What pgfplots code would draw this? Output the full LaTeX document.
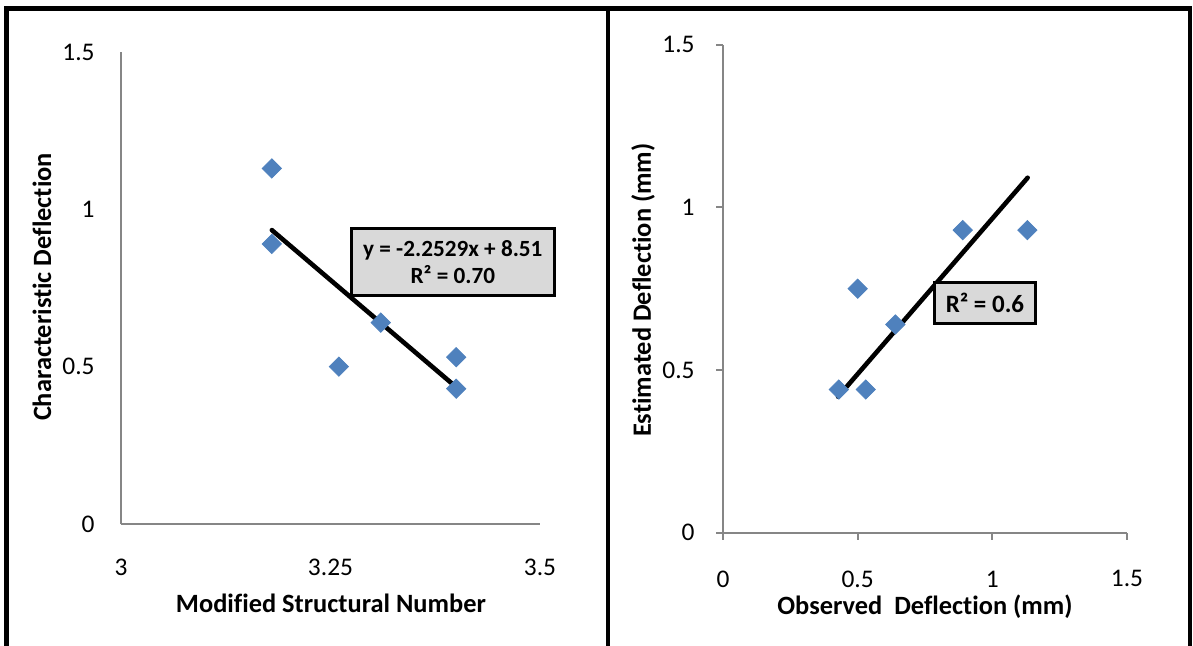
\documentclass[border=0pt]{standalone}
\usepackage{pgfplots}
\pgfplotsset{compat=1.18}
\usepackage{fontspec}
\setmainfont{Carlito}[Ligatures=NoCommon]
\definecolor{excelblue}{HTML}{4F81BD}
\definecolor{axisgray}{HTML}{868686}
\definecolor{boxgray}{HTML}{D9D9D9}
\begin{document}
\begin{tikzpicture}
\useasboundingbox (0,0) rectangle (596.5pt,-323pt);
\draw[line width=2.3pt] (3.2pt,-325pt) -- (3.2pt,-4.25pt) -- (595pt,-4.25pt) -- (595pt,-325pt);
\draw[line width=2.3pt] (303.9pt,-4.25pt) -- (303.9pt,-325pt);
\pgfplotsset{common/.style={
  scale only axis, axis lines=left,
  axis line style={-, draw=axisgray, line width=1pt},
  /pgf/number format/assume math mode=true,
  tick label style={font=\fontsize{12.7}{15}\selectfont, text=black, inner sep=0pt},
  label style={font=\fontsize{13.2}{16}\selectfont\bfseries},
  clip=false, ymin=0, ymax=1.5, ytick={0,0.5,1,1.5}, yticklabels={0,0.5,1,1.5}}}

\begin{axis}[common, at={(60.5pt,-262pt)}, anchor=south west,
  width=209.5pt, height=236pt,
  xmin=3, xmax=3.5, xtick={3,3.25,3.5}, xticklabels={3,3.25,3.5},
  major tick length=0pt,
  xticklabel style={anchor=center, yshift=-21.5pt},
  yticklabel style={anchor=east, xshift=-13pt},
  xlabel={Modified Structural Number}, ylabel={Characteristic Deflection},
  xlabel style={at={(axis description cs:0.501,-0.169)}, anchor=center},
  ylabel style={at={(axis description cs:-0.1885,0.502)}, anchor=center}]
\addplot[only marks, mark=square*, mark size=3.4pt, mark options={rotate=45, fill=excelblue, draw=excelblue}]
  coordinates {(3.18,1.13) (3.18,0.89) (3.26,0.50) (3.31,0.64) (3.40,0.53) (3.40,0.43)};
\addplot[black, line width=2.3pt, line cap=round] coordinates {(3.18,0.934) (3.40,0.435)};
\node[draw=black, line width=1.5pt, fill=boxgray, minimum width=101.3pt, minimum height=33.7pt, inner sep=0pt, align=center, font=\fontsize{11.6}{13.5}\selectfont\bfseries] at (axis cs:3.396,0.8326) {y = -2.2529x + 8.51\\R² = 0.70};
\end{axis}

\begin{axis}[common, at={(361.5pt,-266.35pt)}, anchor=south west,
  width=202pt, height=244pt,
  xmin=0, xmax=1.5, xtick={0,0.5,1,1.5}, xticklabels={0,0.5,1,1.5},
  tick align=outside, major tick length=3.5pt,
  tick style={draw=axisgray, line width=1pt},
  xticklabel style={anchor=center, yshift=-19.6pt},
  yticklabel style={anchor=east, xshift=-10.5pt},
  xlabel={Observed\ \ Deflection (mm)}, ylabel={Estimated Deflection (mm)},
  xlabel style={at={(axis description cs:0.5,-0.152)}, anchor=center},
  ylabel style={at={(axis description cs:-0.198,0.497)}, anchor=center}]
\addplot[only marks, mark=square*, mark size=3.4pt, mark options={rotate=45, fill=excelblue, draw=excelblue}]
  coordinates {(0.43,0.44) (0.53,0.44) (0.50,0.75) (0.64,0.64) (0.89,0.93) (1.13,0.93)};
\addplot[black, line width=2.3pt, line cap=round] coordinates {(0.427,0.418) (1.131,1.091)};
\node[draw=black, line width=1.5pt, fill=boxgray, minimum width=50.3pt, minimum height=20.5pt, inner sep=0pt, align=center, font=\fontsize{12.5}{14}\selectfont\bfseries] at (axis cs:0.9726,0.7067) {R² = 0.6};
\end{axis}
\end{tikzpicture}
\end{document}
